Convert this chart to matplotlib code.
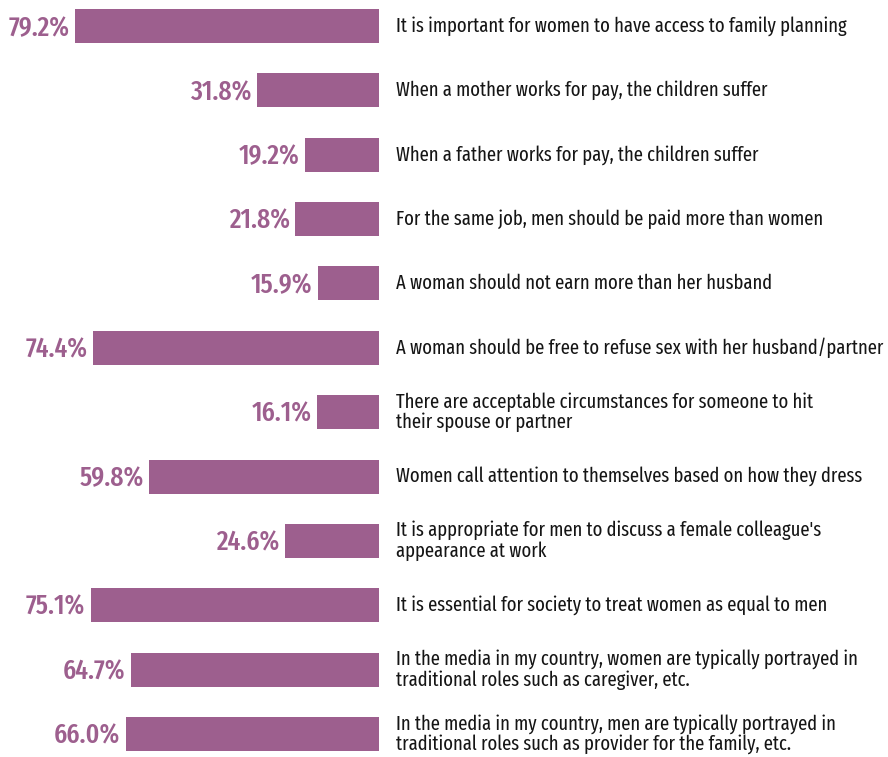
import matplotlib
matplotlib.use("Agg")
import matplotlib.pyplot as plt

statements = [
    "It is important for women to have access to family planning",
    "When a mother works for pay, the children suffer",
    "When a father works for pay, the children suffer",
    "For the same job, men should be paid more than women",
    "A woman should not earn more than her husband",
    "A woman should be free to refuse sex with her husband/partner",
    "There are acceptable circumstances for someone to hit\ntheir spouse or partner",
    "Women call attention to themselves based on how they dress",
    "It is appropriate for men to discuss a female colleague's\nappearance at work",
    "It is essential for society to treat women as equal to men",
    "In the media in my country, women are typically portrayed in\ntraditional roles such as caregiver, etc.",
    "In the media in my country, men are typically portrayed in\ntraditional roles such as provider for the family, etc.",
]
values = [79.2, 31.8, 19.2, 21.8, 15.9, 74.4, 16.1, 59.8, 24.6, 75.1, 64.7, 66.0]

bar_color = "#9d5f8e"
fonts = ["Fira Sans Extra Condensed", "Roboto Condensed", "DejaVu Sans"]

W, H = 888, 757
fig = plt.figure(figsize=(W / 100, H / 100), dpi=100)
ax = fig.add_axes([0, 0, 379 / W, 1])

px_per_pct = 3.84
row_gap = 64.36
first_row = 26
ax.set_xlim(-379 / px_per_pct, 0)
ax.set_ylim((H - first_row) / row_gap, -first_row / row_gap)

ypos = list(range(len(values)))
ax.barh(ypos, [-v for v in values], height=34 / row_gap, color=bar_color)

for y, v, s in zip(ypos, values, statements):
    ax.text(-v - 1.4, y + 0.03, f"{v:.1f}%", ha="right", va="center",
            fontsize=20, fontweight="medium", color=bar_color, family=fonts)
    fig.text(396 / W, 1 - (first_row + y * row_gap) / H, s, ha="left", va="center",
             fontsize=14.5, color="#151515", family=fonts, linespacing=1.05)

ax.axis("off")
fig.savefig("out.png", dpi=100)
